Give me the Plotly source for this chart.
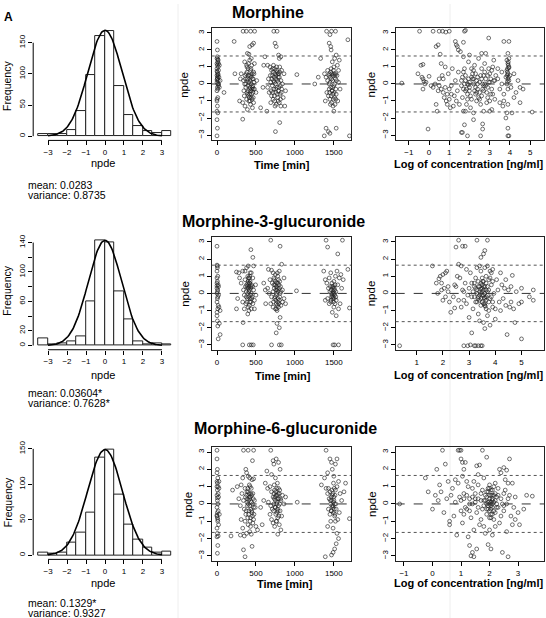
import numpy as np
import plotly.graph_objects as go

W, H = 546, 618
FONT = "Liberation Sans, Arial, sans-serif"

# ---------------- DATA ----------------
bin_centers = [-3.25, -2.75, -2.25, -1.75, -1.25, -0.75, -0.25, 0.25, 0.75, 1.25, 1.75, 2.25, 2.75, 3.25]
hist_morphine = [3, 3, 3, 10, 41, 98, 160, 168, 81, 34, 16, 8, 5, 9]
hist_m3g = [10, 2, 3, 5, 13, 60, 143, 140, 73, 35, 5, 2, 3, 2]
hist_m6g = [3, 2, 3, 17, 32, 60, 138, 149, 86, 43, 22, 10, 4, 5]
curve_peaks = [170, 143, 149]
curve_sds = [0.9, 0.88, 0.92]

compounds = ["Morphine", "Morphine-3-glucuronide", "Morphine-6-glucuronide"]
mean_text = ["mean: 0.0283", "mean: 0.03604*", "mean: 0.1329*"]
var_text = ["variance: 0.8735", "variance: 0.7628*", "variance: 0.9327"]

hist_yticks = [[0, 50, 100, 150], [0, 20, 40, 60, 80, 100, 120, 140], [0, 50, 100, 150]]
hist_ylabels = [["0", "50", "100", "150"], ["0", "20", "", "60", "", "100", "", "140"], ["0", "50", "100", "150"]]

# npde vs time (min, npde)
morphine_time = [
    (0, 2.5), (5, 2.0), (0, 1.5), (10, 1.3), (5, 1.1), (15, 1.0), (0, 0.9), (20, 0.8), (5, 0.7), (10, 0.6), (0, 0.5),
    (25, 0.4), (5, 0.3), (15, 0.2), (0, 0.1), (10, 0.0), (20, -0.1), (5, -0.2), (0, -0.4), (30, 1.1), (40, 0.2),
    (10, -0.8), (0, -0.9), (5, -1.3), (0, -1.6), (10, -1.7), (0, -2.1), (5, -2.6), (0, -3.05), (15, 1.4), (20, 1.2),
    (0, 1.2), (10, 0.45), (30, -0.2), (0, -1.0),
    (335, 3.1), (377, 3.1), (432, 3.1), (483, 3.1), (450, 2.3), (470, 2.4), (420, 2.2), (390, 1.8), (410, 1.75),
    (330, -2.07), (355, 1.3), (380, 1.1), (400, 0.9), (430, 0.8), (450, 0.6), (470, 0.7), (360, 0.5), (340, 0.2),
    (390, 0.3), (410, 0.1), (440, 0.0), (460, -0.1), (480, -0.3), (370, -0.2), (400, -0.4), (420, -0.6), (440, -0.8),
    (460, -0.5), (350, -0.7), (380, -0.9), (410, -1.0), (430, -1.2), (450, -0.9), (470, -1.1), (330, -1.1),
    (360, -1.3), (390, -1.5), (420, -0.3), (440, 0.4), (400, 0.5), (370, 0.0), (310, 0.6), (290, -1.0), (500, -0.5),
    (510, 0.2), (480, 1.2), (420, 1.4), (300, 0.3), (455, -1.4), (440, 1.5), (395, -0.1), (425, 0.2), (465, 0.3),
    (385, 0.7), (445, -0.3),
    (729, 3.1), (771, 3.1), (745, 2.4), (760, 2.2), (790, 1.7), (800, 1.5), (820, 1.6), (750, -2.8), (805, -2.27),
    (650, 1.1), (680, 1.0), (700, 0.8), (720, 0.7), (740, 0.9), (760, 0.5), (780, 0.6), (800, 0.4), (820, 0.2),
    (840, 0.0), (660, 0.3), (690, 0.1), (710, -0.1), (730, -0.3), (750, 0.0), (770, -0.2), (790, -0.4), (810, -0.6),
    (830, -0.3), (850, -0.8), (670, -0.5), (700, -0.7), (720, -0.9), (740, -1.0), (760, -1.2), (780, -0.8),
    (800, -1.1), (820, -1.3), (690, -1.1), (640, -1.6), (600, 1.1), (615, 1.6), (870, -1.3), (880, -0.4), (860, 0.6),
    (775, 0.2), (735, 0.4), (815, -0.1), (755, -0.5), (790, 0.1), (710, 0.5), (830, 0.8), (650, -0.2), (590, -0.2),
    (560, -1.4),
    (1407, 3.1), (1470, 3.1), (1521, 3.1), (1450, 2.9), (1440, 2.4), (1460, 2.2), (1465, 2.0), (1530, 1.7),
    (1510, 1.5), (1480, 1.3), (1377, -3.05), (1449, -2.9), (1400, -2.6), (1430, -2.8), (1530, -2.6), (1700, -3.05),
    (1680, 2.6), (1330, 1.5), (1380, 0.6), (1400, 0.4), (1420, 0.2), (1440, 0.0), (1460, -0.2), (1480, -0.4),
    (1500, -0.1), (1520, 0.3), (1540, 0.5), (1560, 0.8), (1410, -0.5), (1430, -0.7), (1450, -0.9), (1470, -1.1),
    (1490, -1.3), (1510, -0.8), (1530, -0.6), (1550, -1.0), (1500, -1.6), (1390, -1.0), (1420, 0.8), (1460, 0.7),
    (1490, 0.5), (1500, 1.0), (1545, 1.1), (1570, 1.4), (1580, -0.3), (1450, 0.1), (1470, 0.3), (1490, -0.6),
    (1510, 0.0), (1525, -0.3), (1440, -0.3), (1560, 0.1), (1255, 0.0), (1025, 0.55), (1300, 0.4), (220, 2.5),
    (90, -0.5), (230, 0.6),
]
morphine_time_core = [
    (375, 0.6), (385, -0.5), (395, 0.2), (405, -0.7), (415, 0.5), (425, -0.2), (435, 0.9), (445, -0.6), (455, 0.3),
    (465, -0.8), (475, 0.1), (385, 1.0), (405, 1.2), (425, -1.0), (445, 1.1), (465, -0.3), (355, 0.0), (365, 0.3),
    (435, -0.4), (455, -0.2), (415, -0.8), (395, -0.6), (475, 0.6), (345, -0.4), (430, 0.5),
    (705, 0.3), (715, -0.5), (725, 0.2), (735, -0.7), (745, 0.6), (755, -0.3), (765, 0.8), (775, -0.6), (785, 0.4),
    (795, -0.2), (805, 0.7), (815, -0.9), (725, 1.1), (765, 1.0), (745, -1.3), (785, -1.0), (805, 1.0), (695, -0.4),
    (825, -0.5), (755, 0.3), (735, 0.1), (775, 0.7), (795, 0.6), (715, 0.9), (685, 0.5),
    (1435, 0.5), (1445, -0.5), (1455, 0.4), (1465, -0.7), (1475, 0.6), (1485, -0.2), (1495, 0.8), (1505, -0.5),
    (1515, 0.5), (1525, -0.9), (1535, 0.2), (1455, -1.2), (1485, 0.2), (1505, 0.6), (1495, -0.9), (1475, -0.4),
    (1515, -1.2), (1465, 0.9), (1445, 0.6), (1525, 0.6),
    (5, 1.6), (10, 1.45), (0, 0.75), (15, 0.55), (5, 0.35), (20, 0.0), (10, -0.3), (0, 0.25),
]

m3g_time = [
    (0, 2.75), (0, 1.65), (5, 1.6), (0, 1.3), (10, 1.0), (0, 0.9), (5, 0.7), (15, 0.5), (0, 0.3), (10, 0.2), (0, 0.0),
    (20, -0.1), (5, -0.3), (0, -0.5), (15, -0.7), (10, -0.9), (25, -0.8), (40, -1.0), (0, -1.3), (5, -1.6),
    (10, -1.9), (30, -1.75), (15, -2.65), (40, -2.4), (0, 0.6), (20, 0.4), (0, -1.1), (5, 1.5),
    (330, -3.0), (415, -3.0), (440, -3.0), (465, -3.0), (435, 2.55), (460, 2.1), (470, 1.6), (400, 1.6), (380, 1.5),
    (360, 1.3), (330, 1.3), (280, 1.2), (250, 1.25), (290, 0.9), (310, 0.6), (340, 0.2), (350, -0.1), (360, 0.8),
    (380, 0.5), (400, 0.7), (410, 0.4), (420, 0.6), (430, 0.3), (440, 0.0), (450, -0.2), (460, 0.9), (470, 0.2),
    (480, -0.4), (390, -0.3), (370, -0.6), (400, -0.8), (420, -0.5), (440, -0.9), (460, -0.6), (480, -0.9),
    (500, -0.1), (350, -0.9), (330, -0.5), (410, -1.0), (395, -1.2), (440, 1.2), (420, 1.0), (410, 0.1), (430, -0.1),
    (445, 0.5), (395, 0.3), (375, 0.1), (415, 0.9), (335, -1.7), (265, -0.3), (250, -0.9), (495, 0.5),
    (690, 3.1), (810, 2.75), (700, -3.0), (800, -3.0), (825, -3.0), (760, -2.3), (770, -1.75), (800, -2.0),
    (810, -1.4), (660, 1.4), (700, 1.35), (720, 1.2), (750, 1.1), (780, 1.0), (800, 1.3), (830, 1.7), (680, 0.8),
    (710, 0.6), (730, 0.5), (760, 0.4), (780, 0.6), (800, 0.3), (820, 0.1), (840, 0.2), (650, 0.3), (670, 0.0),
    (700, -0.2), (720, 0.1), (740, -0.3), (760, -0.1), (780, -0.5), (800, -0.4), (820, -0.7), (840, -0.5),
    (860, -0.3), (690, -0.6), (720, -0.8), (750, -0.9), (770, -1.0), (790, -0.8), (810, 0.0), (770, 0.2), (750, 0.7),
    (790, 0.8), (760, -0.6), (730, 0.9), (600, 0.6), (620, 0.2), (880, -0.6), (1020, 0.15), (625, -0.6), (860, 0.9),
    (1400, 3.1), (1610, 3.1), (1420, 2.7), (1550, 2.3), (1490, -3.0), (1510, -3.0), (1560, -3.0), (1370, 1.3),
    (1390, 0.8), (1410, 0.6), (1430, 0.3), (1450, 0.1), (1470, 0.0), (1490, -0.2), (1510, 0.2), (1530, -0.4),
    (1550, 0.5), (1570, 0.9), (1590, 1.1), (1420, -0.3), (1440, -0.6), (1460, -0.5), (1480, 0.4), (1500, 0.7),
    (1520, 1.0), (1540, 1.3), (1500, -0.8), (1480, -1.1), (1530, -1.3), (1560, -0.9), (1580, -0.6), (1600, 0.3),
    (1620, 0.8), (1440, 0.9), (1460, 1.2), (1490, 0.0), (1510, -0.1), (1525, 0.1), (1470, -0.2), (1505, 0.3),
    (1700, -0.85), (1680, 1.4), (1390, -0.4),
]
m3g_time_core = [
    (385, 0.4), (395, 0.6), (405, 0.9), (415, 0.2), (425, 0.7), (435, 0.4), (405, -0.2), (425, -0.3), (395, 1.0),
    (415, 0.6), (435, -0.5), (385, -0.5), (405, 0.3), (365, 0.4), (455, 0.4), (445, -0.3), (375, -0.2), (415, -0.7),
    (395, 0.0), (425, 1.2),
    (735, 0.3), (745, -0.2), (755, 0.2), (765, 0.0), (775, 0.3), (785, -0.3), (795, 0.5), (805, -0.2), (765, 0.6),
    (755, -0.4), (775, -0.7), (785, 0.1), (745, 0.5), (795, -0.6), (725, -0.5), (815, 0.4), (735, 0.8), (805, 0.7),
    (765, -0.9), (775, 1.2),
    (1465, 0.2), (1475, -0.1), (1485, 0.3), (1495, 0.1), (1505, -0.3), (1515, 0.5), (1475, 0.6), (1495, -0.5),
    (1485, -0.3), (1505, 0.0), (1465, -0.4), (1525, -0.2), (1455, 0.4), (1515, -0.6), (1495, 0.4),
    (5, 0.1), (10, -0.2), (0, 0.45),
]

m6g_time = [
    (0, 3.1), (0, 2.6), (5, 2.0), (0, 1.8), (10, 1.5), (0, 1.3), (15, 1.0), (5, 0.8), (0, 0.5), (20, 0.4), (5, 0.2),
    (10, 0.0), (0, -0.2), (15, -0.4), (0, -0.7), (5, -0.8), (10, -1.0), (20, -1.2), (0, -1.4), (5, -1.7),
    (15, -1.85), (0, -1.9), (10, -2.4), (5, -2.85), (25, 0.9), (30, -0.6), (15, 0.6), (0, 1.0), (25, 1.3), (5, -0.5),
    (340, 3.1), (400, 3.1), (470, 3.1), (455, 2.5), (370, 2.0), (380, 1.8), (400, 1.6), (420, 1.5), (450, 1.4),
    (470, 1.45), (330, 1.5), (310, 1.1), (200, 0.8), (260, 1.0), (280, 0.3), (300, -0.1), (320, 0.6), (340, 0.2),
    (360, 0.9), (380, 0.5), (400, 0.7), (420, 0.3), (440, 0.9), (460, 0.6), (480, 0.2), (350, -0.3), (370, -0.6),
    (390, -0.1), (410, -0.4), (430, -0.8), (450, -0.5), (470, -0.9), (490, -0.2), (360, -1.0), (400, -1.2),
    (430, -1.3), (460, -1.1), (310, -0.9), (330, -1.4), (300, -1.8), (350, -1.85), (380, -1.7), (420, -1.6),
    (440, -1.75), (500, -1.3), (520, -1.5), (180, -1.85), (340, -2.65), (360, -3.05), (450, -2.45), (400, 0.0),
    (420, -0.1), (440, 0.1), (390, 0.3), (410, 0.6), (430, 0.4), (470, -0.2),
    (690, 3.1), (720, 2.5), (730, 2.3), (760, 2.6), (790, 2.4), (810, 2.0), (640, 1.9), (700, 1.7), (750, 1.5),
    (620, 1.2), (650, 0.9), (680, 1.0), (700, 0.7), (720, 0.4), (740, 0.8), (760, 0.5), (780, 0.3), (800, 0.6),
    (820, 0.2), (840, 0.5), (860, 0.0), (660, 0.1), (690, -0.1), (710, -0.3), (730, 0.0), (750, -0.2), (770, -0.5),
    (790, -0.1), (810, -0.4), (830, -0.7), (680, -0.6), (700, -0.9), (720, -1.1), (740, -1.3), (760, -1.0),
    (780, -0.8), (800, -1.2), (820, -1.5), (780, -1.75), (600, 0.2), (560, -0.2), (580, -1.2), (1030, 0.1),
    (880, 0.4), (770, 0.1), (750, 0.2), (790, 0.9), (730, 0.6),
    (1400, 3.1), (1450, 2.6), (1470, 2.4), (1520, 2.3), (1540, 2.6), (1480, 2.0), (1500, 1.6), (1420, 1.8),
    (1380, 1.5), (1340, 1.1), (1400, 0.9), (1420, 0.6), (1440, 0.3), (1460, 0.0), (1480, 0.5), (1500, 0.2),
    (1520, 0.8), (1540, 1.0), (1560, 1.3), (1580, 0.6), (1600, 0.2), (1430, -0.3), (1450, -0.6), (1470, -0.4),
    (1490, -0.1), (1510, -0.7), (1530, -0.3), (1550, -0.9), (1570, -0.5), (1460, -1.0), (1490, -1.4), (1520, -1.0),
    (1540, -1.7), (1560, -2.0), (1530, -2.3), (1510, -2.6), (1490, -2.8), (1470, -2.95), (1390, -3.05),
    (1420, -1.3), (1450, 0.7), (1500, 0.4), (1470, 0.2), (1510, 0.0), (1430, 0.9), (1700, -0.85), (1650, 1.2),
    (1630, 0.7),
]
m6g_time_core = [
    (385, 0.1), (395, 0.9), (405, -0.6), (415, 0.4), (425, 1.0), (435, -0.3), (445, 0.5), (455, -0.7), (465, 0.3),
    (375, -0.4), (395, -0.8), (415, 1.1), (435, 0.6), (455, 0.0), (405, 0.2), (425, -1.0), (445, -0.4), (365, 0.4),
    (385, 0.7), (475, -0.6),
    (735, 0.3), (745, -0.2), (755, 0.7), (765, 0.0), (775, 0.5), (785, -0.4), (795, 0.3), (805, 0.0), (765, 0.9),
    (755, -0.6), (775, -0.3), (785, 0.6), (745, 0.4), (795, -0.7), (725, -0.4), (815, 0.3), (735, 1.1), (805, 0.8),
    (765, -1.0), (775, 1.2),
    (1465, 0.4), (1475, -0.1), (1485, 0.6), (1495, 0.1), (1505, -0.3), (1515, 0.5), (1475, 0.8), (1495, -0.5),
    (1485, -0.2), (1505, 0.9), (1465, -0.4), (1525, 0.0), (1455, 0.2), (1515, -0.6), (1495, 1.2),
    (5, 0.35), (10, -0.9), (0, -0.65), (5, 1.2),
]

# npde vs log concentration (log ng/ml, npde)
morphine_conc = [
    (-0.47, 3.1), (0.2, 3.1), (0.5, 3.1), (0.67, 3.1), (0.83, 3.05), (1.0, 3.1), (1.75, 3.1), (1.8, 3.15), (2.95, 2.7),
    (3.7, 2.5), (3.95, 2.5), (0.35, 2.2), (0.45, 2.3), (1.3, 2.5), (1.35, 2.3), (1.4, 2.2), (1.45, 2.0), (1.7, 2.45),
    (1.55, 1.9),
    (-1.35, 0.05), (-0.55, 0.6), (-0.4, 1.1), (-0.3, 1.15), (-0.35, 0.4), (-0.3, 0.3), (-0.25, 0.15), (-0.2, 0.0),
    (-0.15, 0.1), (-0.3, -0.3), (-0.05, -2.65), (0.0, 0.45), (0.1, -0.1), (0.2, -0.2), (0.3, 0.0), (0.35, -1.2),
    (0.4, -1.6), (0.45, -0.4), (0.5, 0.3), (0.55, 1.75), (0.6, 1.2), (0.65, 0.5), (0.7, -0.5), (0.75, -0.8),
    (0.8, 1.0), (0.85, -1.0), (0.9, -1.2), (0.95, 0.6), (1.0, -0.3), (1.05, -1.4), (1.1, -0.6), (1.15, 0.9),
    (1.2, -1.3), (1.25, -0.7), (1.3, 0.2), (1.35, -1.0), (1.4, -0.4), (1.45, 0.7), (1.5, -1.2), (0.6, -0.3),
    (0.8, -0.2), (0.9, -0.6), (1.0, -0.9), (1.1, -0.1), (0.7, 0.3), (0.5, -0.1),
    (1.6, 0.2), (1.7, -0.3), (1.8, 0.5), (1.9, -0.6), (2.0, 0.1), (2.1, -0.9), (2.2, 0.8), (2.3, -0.2), (2.4, 0.4),
    (2.5, -0.5), (2.6, 0.9), (2.7, -0.1), (2.8, 0.3), (2.9, -0.8), (3.0, 0.6), (3.1, -0.3), (3.2, 0.2), (3.3, 0.5),
    (1.65, -0.8), (1.75, 0.9), (1.85, -1.2), (1.95, 1.3), (2.05, -1.4), (2.15, 0.3), (2.25, 1.1), (2.35, -1.0),
    (2.45, 1.5), (2.55, -1.2), (2.65, 0.0), (2.75, 1.2), (2.85, -1.1), (2.95, 0.9), (3.05, -0.6), (3.15, 1.0),
    (3.25, -0.9), (1.7, 1.6), (1.8, -1.6), (2.0, 1.7), (2.6, 1.8), (2.8, 1.8), (2.2, -1.7), (2.7, -1.6), (3.1, -1.5),
    (3.2, 1.4), (1.6, -0.1), (1.9, 0.0), (2.1, 0.4), (2.3, -0.6), (2.5, 0.1), (2.7, 0.5), (2.9, -0.2), (3.0, -1.0),
    (2.4, -0.3), (2.0, -0.4), (1.8, 0.2), (2.6, -0.7), (2.2, 0.0), (1.75, -2.4), (1.65, -2.85), (1.6, -2.85),
    (1.9, -3.05), (2.2, -2.1), (2.65, -2.35), (2.65, -2.65), (2.55, -3.05), (3.0, -1.6), (1.7, -1.6),
    (3.4, 0.3), (3.5, -0.3), (3.6, 0.0), (3.7, -0.6), (3.8, 0.4), (3.85, 0.8), (3.9, 1.2), (3.9, 0.6), (3.95, 1.0),
    (3.85, 1.4), (3.9, 1.8), (3.95, 0.2), (3.85, 0.0), (3.9, -0.3), (4.0, 0.5), (4.05, -0.2), (3.9, -1.2),
    (3.85, -1.7), (3.8, -2.0), (3.9, -2.6), (3.9, -3.05), (3.95, -3.05), (4.1, -1.7), (4.2, -0.8), (4.3, -0.5),
    (4.4, 0.2), (4.5, -0.2), (4.5, -1.1), (4.65, -0.3), (5.1, -1.65), (3.5, -1.1), (3.7, -1.0), (3.4, 0.9),
    (3.6, 0.7), (3.65, -1.3), (3.95, 0.95), (3.92, 1.1), (3.88, 0.7), (3.93, 0.4), (4.2, 0.6),
]
morphine_conc_core = [
    (1.65, 0.4), (1.75, 0.0), (1.85, -0.3), (1.95, 0.3), (2.05, -0.7), (2.15, 0.6), (2.25, -0.4), (2.35, 0.2),
    (2.45, -0.8), (2.55, 0.5), (2.65, -0.3), (2.75, 0.7), (2.85, -0.5), (2.95, 0.1), (3.05, 0.3), (3.15, -0.6),
    (3.25, 0.2), (1.7, 0.7), (1.9, -0.9), (2.1, 0.9), (2.3, 0.6), (2.5, -0.9), (2.7, -0.4), (2.9, 0.5), (3.1, 0.8),
    (2.0, -0.2), (2.4, 0.0), (2.8, -0.1), (2.2, 0.3), (2.6, 0.3), (1.8, -0.4), (3.0, 0.1), (1.95, -0.05),
    (2.35, -0.5), (2.75, 0.0),
    (3.88, 0.9), (3.92, 1.3), (3.86, 0.5), (3.9, 0.3), (3.95, 1.5), (3.88, 0.15),
]

m3g_conc = [
    (0.35, -3.05),
    (1.6, 1.6), (1.75, 0.6), (1.8, 0.0), (1.85, 0.85), (1.9, 1.0), (1.95, 0.2), (2.0, 1.1), (2.05, 0.3), (2.1, -0.2),
    (2.15, 1.3), (2.2, 0.4), (2.25, -0.5), (2.3, -1.1), (2.0, -0.4), (1.95, 0.6), (2.1, 1.2), (2.2, 0.1),
    (2.4, -0.2), (2.5, 0.4), (2.6, 1.7), (2.65, 0.9), (2.7, -0.8), (2.75, 0.2), (2.8, -0.4), (2.85, 0.6), (2.9, 1.4),
    (2.95, -0.1), (2.5, 2.7), (2.6, 3.1), (2.75, 2.75), (2.85, 2.75), (2.55, 1.0), (2.45, -0.85), (2.7, 1.6),
    (2.8, 0.1), (2.9, -0.6), (3.0, -1.4), (2.8, -3.05), (2.95, -3.05), (3.05, -3.0), (3.1, -2.3), (2.45, 0.5),
    (2.6, -0.4),
    (3.0, 0.3), (3.1, -0.2), (3.2, 0.6), (3.3, -0.5), (3.4, 0.1), (3.5, 0.9), (3.6, -0.7), (3.7, 0.4), (3.8, -0.3),
    (3.9, 0.7), (4.0, -0.9), (4.1, 0.2), (3.05, 1.2), (3.15, -0.9), (3.25, 0.9), (3.35, -1.2), (3.45, 1.3),
    (3.55, -0.1), (3.65, 1.0), (3.75, -1.0), (3.85, 1.2), (3.95, 0.0), (4.05, 0.8), (4.15, -0.5), (3.3, 0.0),
    (3.4, -0.4), (3.5, 0.3), (3.6, -0.3), (3.7, 0.1), (3.55, -0.6), (3.45, 0.6), (3.35, 0.4), (3.65, 0.6),
    (3.2, -0.2), (3.6, 0.0), (3.5, -0.5), (3.3, 1.5), (3.4, 1.6), (3.6, 1.5), (3.7, 1.6), (3.8, 1.3), (3.9, 1.4),
    (3.3, 3.1), (3.7, 3.1), (3.6, 2.5), (3.55, 2.3), (3.45, 2.1), (3.25, -3.05), (3.35, -3.05), (3.45, -3.05),
    (3.5, -3.05), (3.2, -3.05), (3.4, -1.6), (3.55, -1.7), (3.6, -2.05), (3.8, -1.85), (3.7, -1.3), (4.2, 1.2),
    (4.0, -1.5), (3.9, -0.5), (3.75, 0.8), (3.85, -0.2), (3.45, -0.3), (3.55, 0.2), (3.65, -0.4), (3.35, -0.2),
    (3.5, 0.5), (3.6, 0.4),
    (4.25, 0.5), (4.3, -0.3), (4.35, 0.3), (4.4, -0.7), (4.45, -2.4), (4.5, 0.2), (4.55, -0.8), (4.6, 0.4),
    (4.65, 1.05), (4.7, -0.9), (4.75, -1.7), (4.8, 0.1), (4.9, -0.6), (5.0, 0.3), (5.0, -2.65), (5.0, -0.5),
    (5.3, -0.2), (5.45, 0.2), (5.45, -0.4), (4.6, -0.5), (4.4, 0.8), (4.2, -1.0),
]
m3g_conc_core = [
    (3.15, 0.1), (3.25, 0.3), (3.35, -0.3), (3.45, 0.0), (3.55, 0.4), (3.65, -0.2), (3.75, 0.2), (3.85, 0.5),
    (3.25, -0.5), (3.35, 0.7), (3.45, -0.7), (3.55, 0.7), (3.65, 0.2), (3.75, -0.5), (3.5, -0.1), (3.4, 0.4),
    (3.6, -0.6), (3.3, 0.2), (3.7, -0.1), (3.5, 0.1), (3.45, 0.25), (3.58, -0.25), (3.62, -0.75), (3.4, -0.1),
    (3.52, 0.7), (3.8, 0.9), (3.2, 0.4), (3.9, -0.8), (3.1, 0.6), (3.65, -0.9),
]

m6g_conc = [
    (-1.15, 0.0), (-0.25, 1.5), (-0.15, 0.7), (0.0, -0.3), (0.1, 0.5), (0.15, 2.0), (0.2, 0.2), (0.25, 1.1),
    (0.3, 0.7), (0.35, 3.1), (0.4, -0.5), (0.45, 2.3), (0.5, 0.3), (0.55, 1.3), (0.6, -1.0), (0.6, -1.2), (0.65, 0.5),
    (0.7, 0.9), (0.75, -0.7), (0.8, 0.1), (0.85, -1.8), (0.9, 3.1), (0.95, 3.1), (1.0, 2.6), (1.0, 3.1), (1.05, 2.4),
    (1.1, 2.0), (1.15, 2.4), (0.9, 1.2), (0.95, 0.4), (1.0, -0.4), (1.05, -1.1), (1.1, 0.6), (1.15, -0.2),
    (1.2, 1.3), (1.25, -1.9), (1.3, 0.3), (1.35, -0.8), (1.4, 0.9), (1.45, -1.5), (1.5, 0.1), (1.55, -0.5),
    (1.6, 1.1), (1.65, -1.2), (1.7, 0.6), (1.75, -0.3), (1.8, 1.5), (1.85, -1.7), (1.9, 0.4), (1.95, -0.1),
    (2.0, 0.9), (2.05, -0.6), (2.1, 0.2), (2.15, -0.9), (2.2, 1.2), (2.25, -0.2), (2.3, 0.5), (2.35, -1.1),
    (2.4, 1.8), (2.45, 0.0), (2.5, -0.4), (2.55, 0.8), (2.6, -1.6), (2.65, 0.3), (2.7, 2.6), (2.75, -0.7),
    (2.8, 1.2), (2.85, -0.2), (2.9, 0.4), (3.0, -0.5), (3.2, -0.3), (3.3, 0.5), (3.5, 0.45), (1.3, -2.4),
    (1.4, -2.8), (1.45, -3.05), (1.35, -3.0), (1.55, -2.6), (1.95, -2.35), (2.05, -2.6), (2.1, -1.8), (2.45, -2.8),
    (2.65, -3.05), (1.75, 3.1), (1.55, 2.2), (1.65, 2.25), (1.9, 2.7), (2.6, 1.95), (2.5, 2.1), (2.35, 2.0),
    (1.85, 0.5), (1.9, 0.0), (1.95, 0.7), (2.0, 0.3), (2.05, -0.3), (2.1, 0.8), (2.15, 0.1), (2.2, -0.5),
    (2.0, -0.8), (1.9, -0.6), (2.05, 0.5), (1.8, 0.2), (2.1, -0.2), (2.0, 1.1), (2.15, 1.0), (2.3, 0.9),
    (2.25, 0.4), (1.75, 0.8), (1.6, 0.3), (1.5, 0.6), (1.4, 0.0), (1.3, -0.4), (1.2, 0.5), (1.1, -0.6), (1.0, 0.2),
    (1.25, 1.0), (1.45, 1.3), (1.7, -0.9), (1.8, -1.3), (2.0, -1.5), (2.2, -1.3), (2.4, -0.7), (2.5, 0.6),
    (2.6, 0.0), (2.7, 0.5), (2.8, -1.2), (2.9, -0.9), (3.05, -1.2), (2.55, 1.4), (2.65, 1.2), (1.6, 1.7),
    (1.05, 1.6), (0.8, 1.4), (2.0, 0.0), (2.1, 0.5), (1.95, -0.3), (2.05, 0.1),
]
m6g_conc_core = [
    (1.85, 0.2), (1.9, 0.7), (1.95, 0.1), (2.0, 0.5), (2.05, -0.1), (2.1, 0.3), (2.15, -0.4), (2.2, 0.6),
    (2.25, 0.0), (1.9, -0.3), (2.0, -0.4), (2.1, -0.6), (2.2, 0.2), (1.95, 0.9), (2.05, 0.8), (2.15, 0.5),
    (2.3, -0.2), (1.8, -0.1), (2.0, 0.15), (2.1, 0.0), (2.05, -0.8), (1.7, 0.2), (1.6, -0.2), (1.5, 0.3),
    (1.4, 0.4), (1.3, 0.0), (1.2, -0.3), (1.1, 0.3), (2.4, 0.3), (2.5, -0.1),
]

time_ticks = [0, 500, 1000, 1500]
conc_ticks = [[-1, 0, 1, 2, 3, 4, 5], [1, 2, 3, 4, 5], [-1, 0, 1, 2, 3]]
npde_ticks = [-3, -2, -1, 0, 1, 2, 3]

# ---------------- LAYOUT GEOMETRY (pixels) ----------------
def fx(px):
    return px / W

def fy(py):
    return 1 - py / H

def axname(i):
    s = "" if i == 1 else str(i)
    return f"xaxis{s}", f"yaxis{s}", f"x{s}", f"y{s}"

hist_x_px = (33.2, 176.8)
hist_y_px = [(22.2, 137.3), (232.9, 348.0), (443.5, 559.0)]
hist_yrange = [(-6.8, 176.8), (-5.76, 149.76), (-6.0, 156.0)]
time_x_px = (211.7, 351.0)
conc_x_px = (395.7, 544.3)
scat_y_px = [(24.0, 137.0), (234.3, 348.3), (445.7, 560.7)]
time_range = (-68, 1720)
conc_ranges = [(-1.65, 5.7), (0.2, 5.87), (-1.29, 3.92)]
npde_range = (-3.3, 3.3)

fig = go.Figure()
layout = {}
shapes = []
annotations = []

tickfont = dict(family=FONT, size=8, color="black")
mk = dict(symbol="circle-open", size=3.8, color="rgba(30,30,30,0.9)", line=dict(width=0.7))

hist_data = [hist_morphine, hist_m3g, hist_m6g]
time_data = [morphine_time + morphine_time_core, m3g_time + m3g_time_core, m6g_time + m6g_time_core]
conc_data = [morphine_conc + morphine_conc_core, m3g_conc + m3g_conc_core, m6g_conc + m6g_conc_core]

for r in range(3):
    # ---- histogram ----
    i = r * 3 + 1
    xa, ya, xr, yr = axname(i)
    fig.add_trace(go.Bar(x=bin_centers, y=hist_data[r], width=0.5, xaxis=xr, yaxis=yr,
                         marker=dict(color="white", line=dict(color="#222", width=1))))
    xs = np.linspace(-3, 3, 121)
    ys = curve_peaks[r] * np.exp(-0.5 * (xs / curve_sds[r]) ** 2)
    fig.add_trace(go.Scatter(x=xs, y=ys, mode="lines", xaxis=xr, yaxis=yr,
                             line=dict(color="black", width=1.6)))
    layout[xa] = dict(domain=[fx(hist_x_px[0]), fx(hist_x_px[1])], range=[-3.78, 3.78], anchor=yr,
                      tickvals=[-3, -2, -1, 0, 1, 2, 3], ticks="outside", ticklen=4, tickcolor="black",
                      showgrid=False, zeroline=False, showline=False, tickfont=tickfont)
    layout[ya] = dict(domain=[fy(hist_y_px[r][1]), fy(hist_y_px[r][0])], range=list(hist_yrange[r]), anchor=xr,
                      tickvals=hist_yticks[r], ticktext=hist_ylabels[r], ticks="outside", ticklen=4,
                      tickcolor="black", tickangle=-90, showgrid=False, zeroline=False, showline=False,
                      tickfont=tickfont)
    shapes.append(dict(type="line", xref=xr, yref=f"{yr} domain", x0=-3, x1=3, y0=0, y1=0,
                       line=dict(color="black", width=1)))
    shapes.append(dict(type="line", xref=f"{xr} domain", yref=yr, x0=0, x1=0, y0=0, y1=hist_yticks[r][-1],
                       line=dict(color="black", width=1)))

    # ---- scatter panels ----
    for c, (pts, xpx, xrng, xt) in enumerate([
        (time_data[r], time_x_px, time_range, time_ticks),
        (conc_data[r], conc_x_px, conc_ranges[r], conc_ticks[r]),
    ]):
        j = r * 3 + 2 + c
        xa, ya, xr, yr = axname(j)
        px_, py_ = zip(*pts)
        fig.add_trace(go.Scatter(x=list(px_), y=list(py_), mode="markers", xaxis=xr, yaxis=yr, marker=mk))
        layout[xa] = dict(domain=[fx(xpx[0]), fx(xpx[1])], range=list(xrng), anchor=yr, tickvals=xt,
                          ticks="outside", ticklen=4, tickcolor="black", showgrid=False, zeroline=False,
                          showline=True, linecolor="#222", linewidth=1, mirror=True, tickfont=tickfont)
        layout[ya] = dict(domain=[fy(scat_y_px[r][1]), fy(scat_y_px[r][0])], range=list(npde_range), anchor=xr,
                          tickvals=npde_ticks, ticks="outside", ticklen=4, tickcolor="black", tickangle=-90,
                          showgrid=False, zeroline=False, showline=True, linecolor="#222", linewidth=1,
                          mirror=True, tickfont=tickfont)
        shapes.append(dict(type="line", xref=f"{xr} domain", yref=yr, x0=0, x1=1, y0=0, y1=0,
                           line=dict(color="#333", width=1, dash="dash")))
        for lv in (1.645, -1.645):
            shapes.append(dict(type="line", xref=f"{xr} domain", yref=yr, x0=0, x1=1, y0=lv, y1=lv,
                               line=dict(color="#555", width=1, dash="dot")))

# faint panel separators
for sx in (178, 450):
    shapes.append(dict(type="line", xref="paper", yref="paper", x0=fx(sx), x1=fx(sx), y0=0, y1=1,
                       line=dict(color="#eeeeee", width=1), layer="below"))

def ann(text, x, y, size, bold=False, xanchor="center", angle=0):
    annotations.append(dict(text=f"<b>{text}</b>" if bold else text, x=fx(x), y=fy(y), xref="paper",
                            yref="paper", showarrow=False, xanchor=xanchor, yanchor="middle", textangle=angle,
                            font=dict(family=FONT, size=size, color="black")))

ann("A", 1.5, 13, 12, bold=True, xanchor="left")
title_pos = [(267.5, 8.5), (273, 218.5), (285, 427.5)]
npde_x_y = [160, 373, 583]
freq_y = [83, 289, 502]
mean_y = [182, 391.5, 603]
var_y = [192.5, 402, 612.5]
time_title = [(282, 162), (283, 374), (285, 584)]
conc_title = [(469, 161), (468, 373), (468.5, 583)]
scat_ylab = [(184.3, 81), (185, 291.7), (188, 503.7)]
conc_ylab = [(371, 81), (370.5, 291.7), (372.5, 503.7)]

for r in range(3):
    ann(compounds[r], title_pos[r][0], title_pos[r][1], 16, bold=True)
    ann("npde", 103.4, npde_x_y[r], 11)
    ann("Frequency", 7.5, freq_y[r], 10.5, angle=-90)
    ann(mean_text[r], 26, mean_y[r], 10.5, xanchor="left")
    ann(var_text[r], 26, var_y[r], 10.5, xanchor="left")
    ann("Time [min]", time_title[r][0], time_title[r][1], 11, bold=True)
    ann("Log of concentration [ng/ml]", conc_title[r][0], conc_title[r][1], 11, bold=True)
    ann("npde", scat_ylab[r][0], scat_ylab[r][1], 11.5, angle=-90)
    ann("npde", conc_ylab[r][0], conc_ylab[r][1], 11.5, angle=-90)

fig.update_layout(width=W, height=H, margin=dict(l=0, r=0, t=0, b=0), showlegend=False,
                  plot_bgcolor="white", paper_bgcolor="white", bargap=0, shapes=shapes,
                  annotations=annotations, font=dict(family=FONT), **layout)
fig.write_html("out.html", config={"displayModeBar": False},
               post_script="document.body.style.margin='0';document.body.style.overflow='hidden';")
